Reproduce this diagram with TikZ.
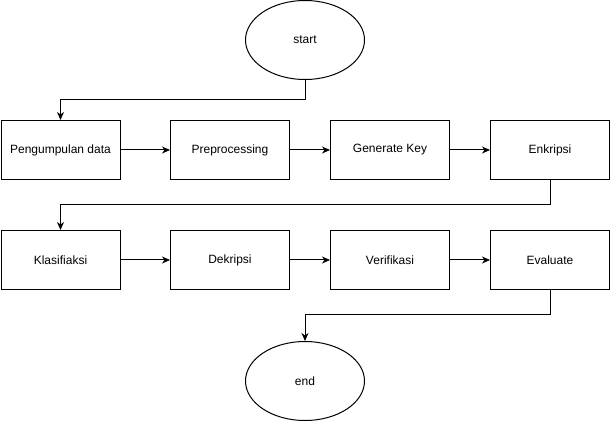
\documentclass[tikz,border=0pt]{standalone}
\usepackage{fontspec}
\setmainfont{Liberation Sans}
\usetikzlibrary{arrows.meta,shapes.geometric}
\begin{document}
\begin{tikzpicture}[x=1pt, y=-1pt, line width=1pt, font=\fontsize{12}{14}\selectfont,
		box/.style={draw, minimum width=119pt, minimum height=59pt, inner sep=0pt},
		term/.style={draw, ellipse, minimum width=119pt, minimum height=79pt, inner sep=0pt},
		>={Stealth[length=8pt, width=7pt, inset=2.5pt]}]
		\useasboundingbox (0,0) rectangle (611,422);

		\node[term] (start)at (305,40)  {start};

		\node[box] (data)at (60.5,150)    {Pengumpulan data};
		\node[box] (prep)at (230,150)     {Preprocessing};
		\node[box] (key)at (390,150)      {Generate Key};
		\node[box] (enk)at (550,150)      {Enkripsi};

		\node[box] (klas)at (60.5,260)    {Klasifiaksi};
		\node[box] (dek)at (230,260)      {Dekripsi};
		\node[box] (ver)at (390,260)      {Verifikasi};
		\node[box] (eval)at (550,260)     {Evaluate};

		\node[term] (end)at (305,381)   {end};

		\draw [->](start.south) -- ++(0,20) -| (data.north);
		\draw [->](data) edge(prep) (prep) edge(key) (key) edge(enk);
		\draw [->](enk.south) -- ++(0,25) -| (klas.north);
		\draw [->](klas) edge(dek) (dek) edge(ver) (ver) edge(eval);
		\draw [->](eval.south) -- ++(0,25) -| (end.north);
	\end{tikzpicture}
\end{document}
